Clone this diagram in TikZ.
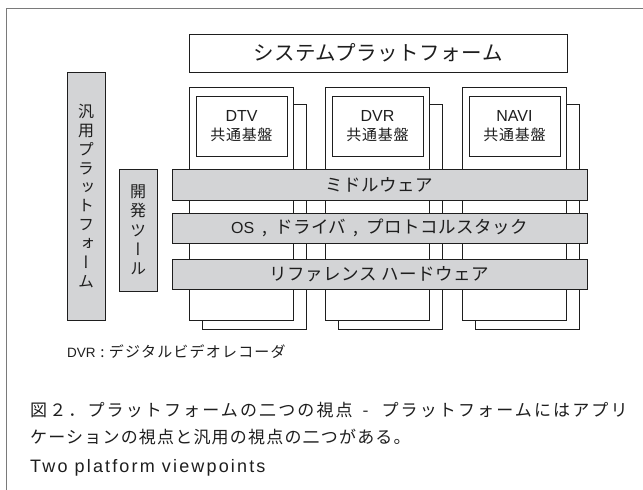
\documentclass[tikz,border=0pt]{standalone}
\usepackage{fontspec}
\setmainfont{Noto Sans CJK JP}
\newfontfamily\lat{Liberation Sans}
\newfontfamily\jp{Noto Sans CJK JP}
\newfontfamily\jpv[RawFeature=+vert]{Noto Sans CJK JP}
\definecolor{barfill}{HTML}{D3D4D6}
\definecolor{ink}{HTML}{1E1E1E}
\definecolor{framec}{HTML}{7A7A7A}
\begin{document}
\begin{tikzpicture}[x=1pt,y=-1pt,
  line/.style={draw=ink, line width=1pt},
  wbox/.style={line, fill=white, inner sep=0pt, text=ink},
  gbox/.style={line, fill=barfill, inner sep=0pt, text=ink},
  bartext/.style={font=\jp\fontsize{17.5}{19}\selectfont\addfontfeature{LetterSpace=3}},
  coltext/.style={align=center, font=\jp\fontsize{15}{18.5}\selectfont\addfontfeature{LetterSpace=4.5}},
  plain/.style={inner sep=0pt, text=ink, anchor=west},
]
\useasboundingbox (0,0) rectangle (643,490);
\fill[white] (0,0) rectangle (643,490);
% outer frame (top and left edges)
\draw[framec, line width=0.9pt] (6,490) -- (6,8) -- (643,8);

% system platform
\node[wbox, minimum width=378pt, minimum height=38pt,
  font=\jp\fontsize{20.5}{22}\selectfont\addfontfeature{LetterSpace=2.5}] (sys) at (378,53) {システムプラットフォーム};

% columns: back boxes, front boxes, inner boxes
\foreach \L/\nm/\lbl in {189/dtv/DTV, 325/dvr/DVR, 462/navi/NAVI}{
  \node[wbox, minimum width=104pt, minimum height=225pt] (\nm back) at (\L+65,216.5) {};
  \node[wbox, minimum width=104pt, minimum height=233pt] (\nm front) at (\L+52,203.5) {};
  \node[wbox, minimum width=91pt, minimum height=60pt, coltext] (\nm inner) at (\L+52.5,126)
    {{\lat\fontsize{16}{18.5}\selectfont\lbl}\\共通基盤};
}

% layer bars
\node[gbox, minimum width=415pt, minimum height=31pt, bartext] (mid) at (379.5,184.5) {ミドルウェア};
\node[gbox, minimum width=415pt, minimum height=30pt, bartext] (os) at (379.5,228)
  {{\lat\fontsize{16}{18}\selectfont OS}\hspace{8pt},\hspace{8pt}ドライバ\hspace{7pt},\hspace{8pt}プロトコルスタック};
\node[gbox, minimum width=415pt, minimum height=30pt, bartext] (hw) at (379.5,274) {リファレンス ハードウェア};

% side bars (vertical text)
\node[gbox, minimum width=38pt, minimum height=248pt, align=center,
  font=\jpv\fontsize{16}{18.8}\selectfont] (gen) at (86,196)
  {汎\\用\\プ\\ラ\\ッ\\ト\\フ\\ォ\\ー\\ム};
\node[gbox, minimum width=38pt, minimum height=122pt, align=center,
  font=\jpv\fontsize{16}{19.3}\selectfont] (dev) at (138,230)
  {開\\発\\ツ\\ー\\ル};

% legend and caption
\node[plain, font=\jp\fontsize{15}{16}\selectfont\addfontfeature{LetterSpace=8}] (legend) at (67,351.5)
  {{\lat\fontsize{13.5}{16}\selectfont DVR} : デジタルビデオレコーダ};
\node[plain, font=\jp\fontsize{17}{18}\selectfont\addfontfeature{LetterSpace=12.5}] (cap1) at (30,410)
  {図２．プラットフォームの二つの視点\hspace{10pt}-\hspace{13pt}プラットフォームにはアプリ};
\node[plain, font=\jp\fontsize{17}{18}\selectfont\addfontfeature{LetterSpace=7}] (cap2) at (30,437)
  {ケーションの視点と汎用の視点の二つがある。};
\node[plain, font=\lat\fontsize{18}{20}\selectfont\addfontfeature{LetterSpace=12}] (cap3) at (30,467.5)
  {Two platform viewpoints};
\end{tikzpicture}
\end{document}
